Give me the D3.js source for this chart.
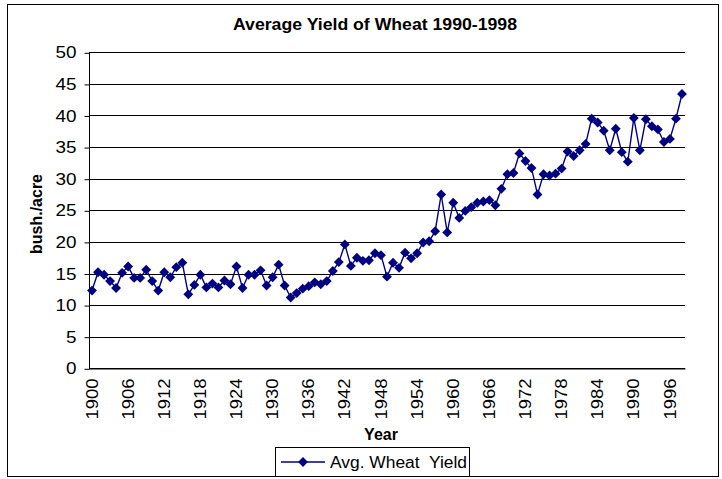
<!DOCTYPE html>
<html>
<head>
<meta charset="utf-8">
<script src="https://cdn.jsdelivr.net/npm/d3@7"></script>
<style>
  body { margin: 0; background: #fff; }
  svg { font-family: "Liberation Sans", Arial, sans-serif; }
</style>
</head>
<body>
<div id="root"></div>
<script>
const years = [
  1900, 1901, 1902, 1903, 1904, 1905, 1906, 1907, 1908, 1909,
  1910, 1911, 1912, 1913, 1914, 1915, 1916, 1917, 1918, 1919,
  1920, 1921, 1922, 1923, 1924, 1925, 1926, 1927, 1928, 1929,
  1930, 1931, 1932, 1933, 1934, 1935, 1936, 1937, 1938, 1939,
  1940, 1941, 1942, 1943, 1944, 1945, 1946, 1947, 1948, 1949,
  1950, 1951, 1952, 1953, 1954, 1955, 1956, 1957, 1958, 1959,
  1960, 1961, 1962, 1963, 1964, 1965, 1966, 1967, 1968, 1969,
  1970, 1971, 1972, 1973, 1974, 1975, 1976, 1977, 1978, 1979,
  1980, 1981, 1982, 1983, 1984, 1985, 1986, 1987, 1988, 1989,
  1990, 1991, 1992, 1993, 1994, 1995, 1996, 1997, 1998
];

const wheatYield = [
  12.3, 15.2, 14.8, 13.8, 12.7, 15.1, 16.1, 14.3, 14.3, 15.6,
  13.8, 12.3, 15.2, 14.4, 16.0, 16.7, 11.7, 13.2, 14.8, 12.8,
  13.4, 12.8, 13.9, 13.3, 16.1, 12.7, 14.8, 14.8, 15.5, 13.1,
  14.4, 16.4, 13.1, 11.2, 11.9, 12.6, 13.0, 13.6, 13.3, 13.8,
  15.4, 16.8, 19.6, 16.2, 17.5, 17.0, 17.1, 18.2, 17.9, 14.5,
  16.7, 15.9, 18.3, 17.4, 18.2, 19.9, 20.1, 21.7, 27.5, 21.5,
  26.2, 23.8, 24.9, 25.5, 26.2, 26.4, 26.6, 25.8, 28.4, 30.7,
  30.9, 34.0, 32.8, 31.7, 27.5, 30.7, 30.5, 30.8, 31.6, 34.3,
  33.6, 34.5, 35.5, 39.5, 38.9, 37.6, 34.5, 37.9, 34.2, 32.7,
  39.6, 34.5, 39.4, 38.3, 37.8, 35.8, 36.3, 39.5, 43.4
];

const xTickYears = [1900, 1906, 1912, 1918, 1924, 1930, 1936, 1942,
  1948, 1954, 1960, 1966, 1972, 1978, 1984, 1990, 1996];
const yTicks = [0, 5, 10, 15, 20, 25, 30, 35, 40, 45, 50];

const w = 722;
const h = 479;
const plotLeft = 89, plotRight = 685, plotTop = 52.3, plotBottom = 368.3;
const navy = "#000080";

const svg = d3.select("#root")
  .append("svg")
  .attr("width", w)
  .attr("height", h);

// outer chart border
svg.append("rect")
  .attr("x", 7.5)
  .attr("y", 4.5)
  .attr("width", 711)
  .attr("height", 472)
  .attr("fill", "none")
  .attr("stroke", "#000")
  .attr("stroke-width", 1);

const xScale = d3.scaleBand()
  .domain(years)
  .range([plotLeft, plotRight]);

const yScale = d3.scaleLinear()
  .domain([0, 50])
  .range([plotBottom, plotTop]);

// gridlines
svg.append("g")
  .selectAll("line")
  .data(yTicks)
  .enter()
  .append("line")
  .attr("x1", plotLeft)
  .attr("x2", plotRight)
  .attr("y1", d => Math.round(yScale(d)) + 0.5)
  .attr("y2", d => Math.round(yScale(d)) + 0.5)
  .attr("stroke", "#000")
  .attr("stroke-width", 1);

// y axis
const yAxis = d3.axisLeft(yScale)
  .tickValues(yTicks)
  .tickSize(5)
  .tickPadding(8);

const gy = svg.append("g")
  .attr("id", "y-axis")
  .attr("transform", `translate(${plotLeft + 0.5}, 0.5)`)
  .call(yAxis);
gy.selectAll("text")
  .attr("font-size", 16)
  .attr("font-family", "Liberation Sans, Arial, sans-serif")
  .attr("fill", "#000")
  .attr("textLength", d => String(d).length * 10.5)
  .attr("lengthAdjust", "spacingAndGlyphs");
gy.select(".domain").remove();
gy.selectAll("line").attr("stroke", "#000");

svg.append("line")
  .attr("x1", plotLeft + 0.5)
  .attr("x2", plotLeft + 0.5)
  .attr("y1", plotTop)
  .attr("y2", plotBottom + 1)
  .attr("stroke", "#000");

// x axis
const xAxis = d3.axisBottom(xScale)
  .tickValues(xTickYears)
  .tickSize(0);

const gx = svg.append("g")
  .attr("id", "x-axis")
  .attr("transform", `translate(0, ${Math.round(plotBottom) + 0.5})`)
  .call(xAxis);
gx.select(".domain")
  .attr("stroke", "#000");
gx.selectAll("text")
  .attr("font-size", 16)
  .attr("font-family", "Liberation Sans, Arial, sans-serif")
  .attr("fill", "#000")
  .attr("text-anchor", "end")
  .attr("transform", "rotate(-90)")
  .attr("x", -10)
  .attr("y", 0)
  .attr("dy", "0.35em")
  .attr("textLength", 41)
  .attr("lengthAdjust", "spacingAndGlyphs");

// series line and markers
const line = d3.line()
  .x((d, i) => xScale(years[i]) + xScale.bandwidth() / 2)
  .y(d => yScale(d));

svg.append("path")
  .datum(wheatYield)
  .attr("d", line)
  .attr("fill", "none")
  .attr("stroke", navy)
  .attr("stroke-width", 1.4);

const diamond = d3.symbol().type(d3.symbolDiamond2).size(62);

svg.append("g")
  .selectAll("path")
  .data(wheatYield)
  .enter()
  .append("path")
  .attr("d", diamond)
  .attr("transform", (d, i) =>
    `translate(${xScale(years[i]) + xScale.bandwidth() / 2}, ${yScale(d)})`)
  .attr("fill", navy);

// titles
svg.append("text")
  .attr("x", 375)
  .attr("y", 30)
  .attr("text-anchor", "middle")
  .attr("font-size", 16)
  .attr("font-weight", "bold")
  .attr("textLength", 284)
  .attr("lengthAdjust", "spacingAndGlyphs")
  .text("Average Yield of Wheat 1990-1998");

svg.append("text")
  .attr("transform", "translate(42, 214) rotate(-90)")
  .attr("text-anchor", "middle")
  .attr("font-size", 16)
  .attr("font-weight", "bold")
  .attr("textLength", 80)
  .attr("lengthAdjust", "spacingAndGlyphs")
  .text("bush./acre");

svg.append("text")
  .attr("x", 381)
  .attr("y", 440)
  .attr("text-anchor", "middle")
  .attr("font-size", 16)
  .attr("font-weight", "bold")
  .text("Year");

// legend
const legend = svg.append("g").attr("id", "legend");

legend.append("rect")
  .attr("x", 275.5)
  .attr("y", 447.5)
  .attr("width", 194)
  .attr("height", 29)
  .attr("fill", "#fff")
  .attr("stroke", "#000");

legend.append("line")
  .attr("x1", 281)
  .attr("x2", 325)
  .attr("y1", 462)
  .attr("y2", 462)
  .attr("stroke", navy)
  .attr("stroke-width", 1.4);

legend.append("path")
  .attr("d", diamond)
  .attr("transform", "translate(303, 462)")
  .attr("fill", navy);

legend.append("text")
  .attr("x", 330)
  .attr("y", 468)
  .attr("font-size", 16)
  .attr("xml:space", "preserve")
  .style("white-space", "pre")
  .attr("textLength", 137)
  .attr("lengthAdjust", "spacingAndGlyphs")
  .text("Avg. Wheat  Yield");
</script>
</body>
</html>
